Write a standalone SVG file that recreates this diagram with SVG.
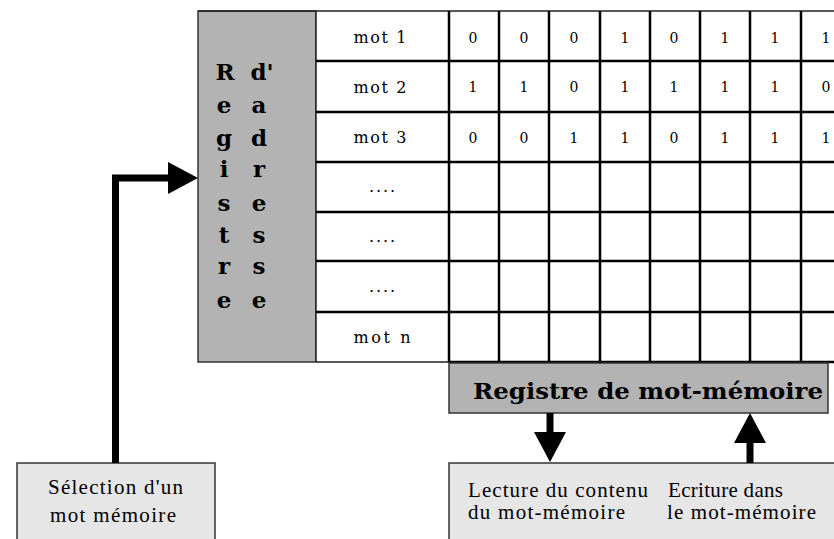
<svg xmlns="http://www.w3.org/2000/svg" width="834" height="539" viewBox="0 0 834 539">
<style>
  .grid { stroke: #000; stroke-width: 2.5; fill: none; }
  .thin { stroke: #222; stroke-width: 1.5; fill: none; }
  .dark { fill: #b3b3b3; stroke: #333; stroke-width: 1.5; }
  .light { fill: #e6e6e6; stroke: #333; stroke-width: 1.5; }
  .mot { font-family: "DejaVu Serif", "Liberation Serif", serif; font-size: 16px; fill: #000; text-anchor: middle; }
  .bit { font-family: "DejaVu Serif", "Liberation Serif", serif; font-size: 14px; fill: #000; text-anchor: middle; }
  .vert { font-family: "DejaVu Serif", "Liberation Serif", serif; font-size: 23px; font-weight: bold; fill: #000; text-anchor: middle; }
  .title { font-family: "DejaVu Serif", "Liberation Serif", serif; font-size: 22px; font-weight: bold; fill: #000; }
  .lbl { font-family: "Liberation Serif", "Times New Roman", serif; font-size: 21px; fill: #000; }
  .conn { stroke: #000; stroke-width: 7; fill: none; }
</style>
<defs>
  <marker id="ah" viewBox="0 0 30 32" refX="2" refY="16" markerWidth="30" markerHeight="32" orient="auto" markerUnits="userSpaceOnUse">
    <path d="M0,0 L30,16 L0,32 Z" fill="#000"/>
  </marker>
</defs>
<rect width="834" height="539" fill="#fff"/>

<g id="registre-adresse">
  <rect class="dark" x="198" y="11" width="118" height="351"/>
  <g class="vert">
    <text x="225" y="80">R</text><text x="262" y="80">d'</text>
    <text x="224" y="113">e</text><text x="259" y="113">a</text>
    <text x="224" y="146">g</text><text x="259" y="146">d</text>
    <text x="224" y="177">i</text><text x="259" y="177">r</text>
    <text x="224" y="211">s</text><text x="259" y="211">e</text>
    <text x="224" y="243">t</text><text x="259" y="243">s</text>
    <text x="224" y="274">r</text><text x="259" y="274">s</text>
    <text x="224" y="308">e</text><text x="259" y="308">e</text>
  </g>
</g>

<g id="memoire">
  <rect x="316" y="11" width="520" height="351" fill="#fff"/>
  <path class="thin" d="M198,11 H834 M316,11 V362 M316,362 H449"/>
  <path class="grid" d="M316,61 H834 M316,112 H834 M316,162 H834 M316,212 H834 M316,261 H834 M316,312 H834 M449,362 H834"/>
  <path class="grid" d="M449,11 V362 M499,11 V362 M549,11 V362 M600,11 V362 M650,11 V362 M700,11 V362 M750,11 V362 M801,11 V362"/>
  <g class="mot">
    <text x="380" y="43" textLength="53" lengthAdjust="spacing">mot 1</text>
    <text x="380" y="93" textLength="53" lengthAdjust="spacing">mot 2</text>
    <text x="380" y="143" textLength="53" lengthAdjust="spacing">mot 3</text>
    <text x="382" y="192" textLength="26" lengthAdjust="spacing">....</text>
    <text x="382" y="242" textLength="26" lengthAdjust="spacing">....</text>
    <text x="382" y="292" textLength="26" lengthAdjust="spacing">....</text>
    <text x="382" y="343" textLength="57" lengthAdjust="spacing">mot n</text>
  </g>
  <g class="bit">
    <text x="473" y="43">0</text><text x="524" y="43">0</text><text x="574" y="43">0</text><text x="625" y="43">1</text><text x="674" y="43">0</text><text x="725" y="43">1</text><text x="775" y="43">1</text><text x="826" y="43">1</text>
    <text x="473" y="92">1</text><text x="524" y="92">1</text><text x="574" y="92">0</text><text x="625" y="92">1</text><text x="674" y="92">1</text><text x="725" y="92">1</text><text x="775" y="92">1</text><text x="826" y="92">0</text>
    <text x="473" y="143">0</text><text x="524" y="143">0</text><text x="574" y="143">1</text><text x="625" y="143">1</text><text x="674" y="143">0</text><text x="725" y="143">1</text><text x="775" y="143">1</text><text x="826" y="143">1</text>
  </g>
</g>

<g id="registre-mot">
  <rect class="dark" x="449" y="363" width="379" height="50"/>
  <text class="title" x="473" y="399" textLength="350" lengthAdjust="spacingAndGlyphs">Registre de mot-mémoire</text>
</g>

<g id="selection">
  <rect class="light" x="17" y="463" width="198" height="90"/>
  <text class="lbl" x="48" y="494" textLength="135" lengthAdjust="spacing">Sélection d'un</text>
  <text class="lbl" x="50" y="522" textLength="126" lengthAdjust="spacing">mot mémoire</text>
</g>

<g id="lecture-ecriture">
  <rect class="light" x="449" y="463" width="400" height="90"/>
  <text class="lbl" x="468" y="497" textLength="180" lengthAdjust="spacing">Lecture du contenu</text>
  <text class="lbl" x="468" y="519" textLength="157" lengthAdjust="spacing">du mot-mémoire</text>
  <text class="lbl" x="668" y="497" textLength="115" lengthAdjust="spacing">Ecriture dans</text>
  <text class="lbl" x="667" y="519" textLength="149" lengthAdjust="spacing">le mot-mémoire</text>
</g>

<g id="connectors">
  <path class="conn" d="M115.5,463 V178 H170" marker-end="url(#ah)"/>
  <path class="conn" d="M550,413 V434" marker-end="url(#ah)"/>
  <path class="conn" d="M750,463 V441" marker-end="url(#ah)"/>
</g>
</svg>
